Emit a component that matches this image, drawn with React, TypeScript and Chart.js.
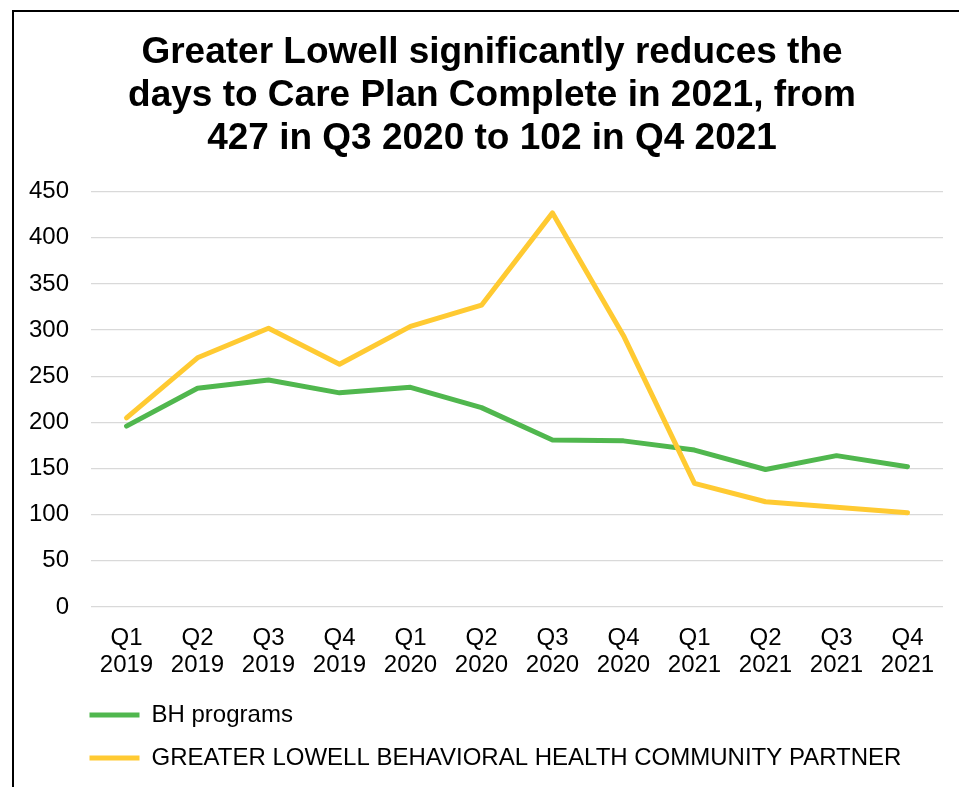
import React, { useEffect, useRef } from "react";
import { Chart, registerables } from "chart.js";

Chart.register(...registerables);

const titleLines = [
  "Greater Lowell significantly reduces the",
  "days to Care Plan Complete in 2021, from",
  "427 in Q3 2020 to 102 in Q4 2021",
];
const quarters = ["Q1", "Q2", "Q3", "Q4", "Q1", "Q2", "Q3", "Q4", "Q1", "Q2", "Q3", "Q4"];
const years = ["2019", "2019", "2019", "2019", "2020", "2020", "2020", "2020", "2021", "2021", "2021", "2021"];
const bhLabel = "BH programs";
const bhValues = [196, 237, 246, 232, 238, 216, 181, 180, 170, 149, 164, 152];
const glLabel = "GREATER LOWELL BEHAVIORAL HEALTH COMMUNITY PARTNER";
const glValues = [205, 270, 302, 263, 304, 327, 427, 294, 134, 114, 108, 102];
const yMin = 0;
const yMax = 450;
const yStep = 50;

const FONT = "'Liberation Sans', Arial, sans-serif";

const boxShift = {
  id: "boxShift",
  afterLayout(chart: any) {
    const lg = chart.legend;
    if (lg) {
      const w = lg.right - lg.left;
      lg.left = 56.5;
      lg.right = lg.left + w;
    }
    const tb = chart.titleBlock;
    if (tb) {
      tb.left += 12;
    }
  },
};

export default function App() {
  const ref = useRef<HTMLCanvasElement | null>(null);
  useEffect(() => {
    if (!ref.current) return;
    const chart = new Chart(ref.current, {
      type: "line",
      data: {
        labels: quarters.map((q, i) => [q, years[i]]),
        datasets: [
          {
            label: bhLabel,
            data: bhValues,
            borderColor: "#50B74E",
            backgroundColor: "#50B74E",
            borderWidth: 5,
            pointRadius: 0,
            borderCapStyle: "round",
            borderJoinStyle: "round",
            tension: 0,
            order: 1,
          },
          {
            label: glLabel,
            data: glValues,
            borderColor: "#FFCA32",
            backgroundColor: "#FFCA32",
            borderWidth: 5,
            pointRadius: 0,
            borderCapStyle: "round",
            borderJoinStyle: "round",
            tension: 0,
            order: 0,
          },
        ],
      },
      options: {
        responsive: false,
        animation: false,
        layout: { padding: { left: 15, right: 16, top: 0, bottom: 7 } },
        plugins: {
          title: {
            display: true,
            text: titleLines,
            color: "#000",
            font: { family: FONT, size: 37, weight: "bold", lineHeight: 1.15 },
            padding: { top: 20, bottom: 32 },
          },
          legend: {
            position: "bottom",
            align: "start",
            labels: {
              usePointStyle: true,
              pointStyle: "line",
              pointStyleWidth: 50,
              padding: 19,
              color: "#000",
              font: { family: FONT, size: 24 },
              sort: (a: any, b: any) => a.datasetIndex - b.datasetIndex,
            },
          },
          tooltip: { enabled: false },
        },
        scales: {
          x: {
            offset: true,
            grid: { display: false, drawTicks: false },
            border: { display: false },
            ticks: {
              color: "#000",
              padding: 18,
              maxRotation: 0,
              autoSkip: false,
              font: { family: FONT, size: 24, lineHeight: 1.12 },
            },
            afterFit: (s: any) => {
              s.height = 77;
            },
          },
          y: {
            min: yMin,
            max: yMax,
            grid: { color: "#D9D9D9", lineWidth: 1.3, drawTicks: false },
            border: { display: false },
            ticks: {
              stepSize: yStep,
              color: "#000",
              padding: 22,
              font: { family: FONT, size: 24 },
            },
            afterFit: (s: any) => {
              s.width = 62;
            },
          },
        },
      },
      plugins: [boxShift],
    } as any);
    return () => chart.destroy();
  }, []);

  return (
    <div style={{ position: "fixed", left: 0, top: 0, width: 959, height: 787, overflow: "hidden", background: "#fff" }}>
      <div
        style={{
          position: "absolute",
          left: 12,
          top: 10,
          width: 980,
          height: 800,
          borderLeft: "2px solid #000",
          borderTop: "2px solid #000",
        }}
      >
        <canvas ref={ref} width={945} height={775} style={{ display: "block", width: 945, height: 775 }} />
      </div>
    </div>
  );
}
